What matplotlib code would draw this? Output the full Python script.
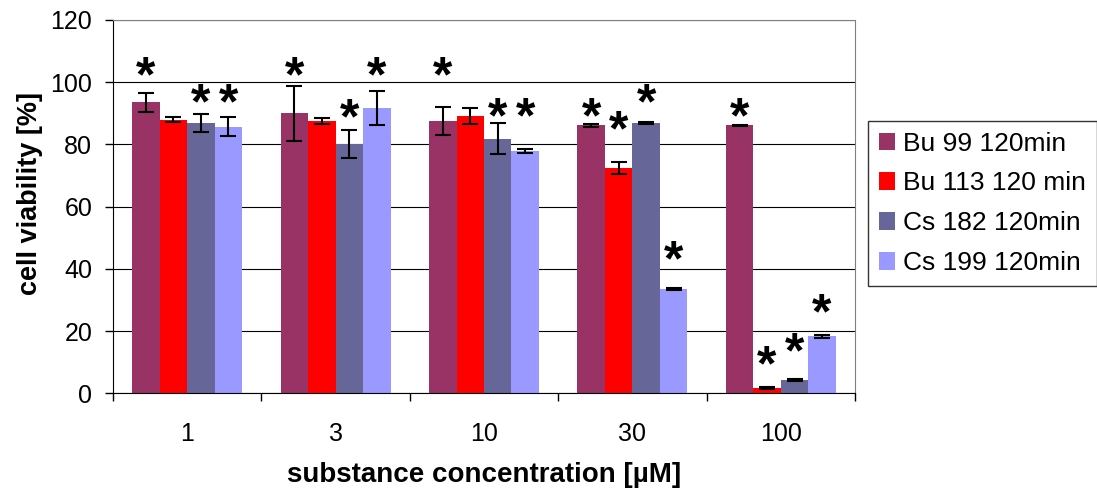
import numpy as np
import matplotlib.pyplot as plt

plt.rcParams['font.family'] = ['Liberation Sans', 'DejaVu Sans']

# data
concentrations = ['1', '3', '10', '30', '100']
series = ['Bu 99 120min', 'Bu 113 120 min', 'Cs 182 120min', 'Cs 199 120min']
colors = ['#993366', '#FF0000', '#666699', '#9999FF']

bu99 = [93.5, 90.0, 87.5, 86.1, 86.1]
bu113 = [88.0, 87.5, 89.2, 72.4, 1.8]
cs182 = [86.9, 80.1, 81.9, 86.9, 4.3]
cs199 = [85.7, 91.7, 77.9, 33.5, 18.3]

bu99_err = [3.0, 8.8, 4.6, 0.6, 0.3]
bu113_err = [0.7, 1.0, 2.5, 1.8, 0.3]
cs182_err = [2.8, 4.6, 4.9, 0.3, 0.4]
cs199_err = [3.1, 5.5, 0.5, 0.3, 0.4]

# height of the significance stars (None = no star)
bu99_star = [105, 105, 105, 92, 92]
bu113_star = [None, None, None, 87.8, 12.2]
cs182_star = [96.5, 91.7, 92, 96.4, 16.5]
cs199_star = [96.5, 105, 92, 46, 28.9]

values = [bu99, bu113, cs182, cs199]
errors = [bu99_err, bu113_err, cs182_err, cs199_err]
stars = [bu99_star, bu113_star, cs182_star, cs199_star]

fig = plt.figure(figsize=(10.97, 4.91), dpi=100)
ax = fig.add_axes([0.1030, 0.199, 0.6764, 0.7603])

x = np.arange(len(concentrations))
w = 0.185
star_fs = 36
for i in range(4):
    pos = x + (i - 1.5) * w
    ax.bar(pos, values[i], w, color=colors[i], label=series[i], zorder=2)
    ax.errorbar(pos, values[i], yerr=errors[i], fmt='none', ecolor='k',
                elinewidth=1.5, capsize=5.5, capthick=1.5, zorder=3)
    for p, s in zip(pos, stars[i]):
        if s is not None:
            # shift so the glyph centre sits on the value
            ax.annotate('*', (p, s), xytext=(0, -0.5 * star_fs),
                        textcoords='offset points', ha='center', va='baseline',
                        fontsize=star_fs, fontweight='bold', zorder=4)

ax.set_xlim(-0.5, len(concentrations) - 0.5)
ax.set_ylim(0, 120)
ax.set_yticks(range(0, 121, 20))
ax.yaxis.grid(True, color='k', linewidth=0.8, zorder=0)
ax.set_axisbelow(True)

ax.set_xticks(x)
ax.set_xticklabels(concentrations)
ax.set_xticks(np.arange(-0.5, len(concentrations)), minor=True)
ax.tick_params(axis='x', which='major', length=0, pad=21, labelsize=18)
ax.tick_params(axis='x', which='minor', length=6, width=1)
ax.tick_params(axis='y', length=6, width=1, pad=9, labelsize=18)

for sp in ['top', 'right']:
    ax.spines[sp].set_color('#808080')
ax.spines['left'].set_color('k')
ax.spines['bottom'].set_color('k')

ax.set_xlabel('substance concentration [µM]', fontsize=20, fontweight='bold', labelpad=11)
ax.set_ylabel('cell viability [%]', fontsize=19.5, fontweight='bold')
ax.yaxis.set_label_coords(-0.094, 0.536)

leg = fig.legend(loc='upper left', bbox_to_anchor=(868 / 1097, 1 - 121 / 491),
                 fontsize=19, frameon=True, fancybox=False, edgecolor='k',
                 handlelength=0.64, handleheight=0.64, handletextpad=0.3,
                 labelspacing=0.6, borderpad=0.4, borderaxespad=0)
leg.get_frame().set_linewidth(1)

fig.savefig('out.png', dpi=100)
